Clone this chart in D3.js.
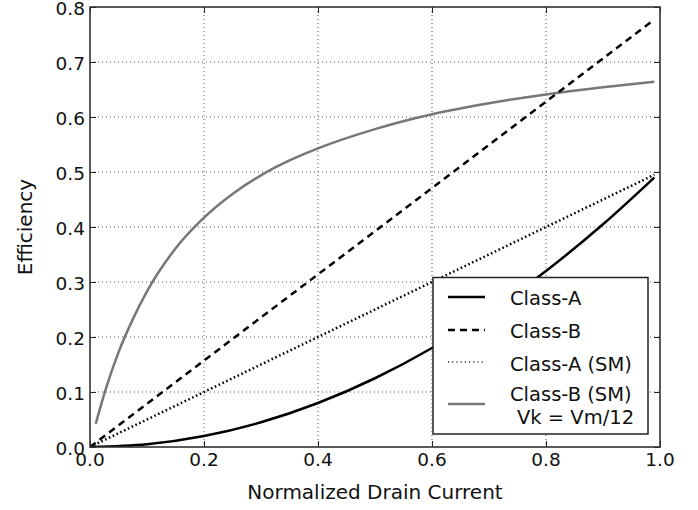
<!DOCTYPE html>
<html>
<head>
<meta charset="utf-8">
<script src="https://cdn.jsdelivr.net/npm/d3@7"></script>
<style>
  body { margin: 0; background: #fff; }
  text { font-family: "DejaVu Sans", sans-serif; fill: #111; }
</style>
</head>
<body>
<svg id="chart" width="698" height="510"></svg>
<script>
// ---- data ----
const xTicks = [0.0, 0.2, 0.4, 0.6, 0.8, 1.0];
const yTicks = [0.0, 0.1, 0.2, 0.3, 0.4, 0.5, 0.6, 0.7, 0.8];

const classAx = [0.0, 0.1, 0.2, 0.3, 0.4, 0.5, 0.6, 0.7, 0.8, 0.9, 0.99];
const classAy = [0.0, 0.005, 0.02, 0.045, 0.08, 0.125, 0.18, 0.245, 0.32, 0.405, 0.49];

const classBx = [0.0, 0.99];
const classBy = [0.0, 0.777];

const classASMx = [0.0, 0.99];
const classASMy = [0.0, 0.495];

const classBSMx = [0.01, 0.02, 0.03, 0.05, 0.075, 0.1, 0.15, 0.2, 0.25, 0.3, 0.35, 0.4, 0.5, 0.6, 0.7, 0.8, 0.9, 0.99];
const classBSMy = [0.042, 0.079, 0.113, 0.172, 0.232, 0.283, 0.361, 0.417, 0.460, 0.494, 0.521, 0.543, 0.578, 0.605, 0.625, 0.641, 0.654, 0.664];

const seriesNames = ["Class-A", "Class-B", "Class-A (SM)", "Class-B (SM)"];

// ---- layout ----
const W = 698, H = 510;
const margin = { left: 90, top: 7, right: 38, bottom: 63 };
const pw = W - margin.left - margin.right;
const ph = H - margin.top - margin.bottom;

const svg = d3.select("#chart");
const g = svg.append("g").attr("transform", `translate(${margin.left},${margin.top})`);

const x = d3.scaleLinear().domain([0, 1]).range([0, pw]);
const y = d3.scaleLinear().domain([0, 0.8]).range([ph, 0]);

// grid
const grid = g.append("g");
grid.selectAll("line.gx").data(xTicks.slice(1, -1)).enter().append("line")
  .attr("x1", d => x(d)).attr("x2", d => x(d)).attr("y1", 0).attr("y2", ph)
  .attr("stroke", "#555").attr("stroke-width", 1).attr("stroke-dasharray", "1,3");
grid.selectAll("line.gy").data(yTicks.slice(1, -1)).enter().append("line")
  .attr("y1", d => y(d)).attr("y2", d => y(d)).attr("x1", 0).attr("x2", pw)
  .attr("stroke", "#555").attr("stroke-width", 1).attr("stroke-dasharray", "1,3");

// clip
svg.append("defs").append("clipPath").attr("id", "clip")
  .append("rect").attr("x", 0).attr("y", -2).attr("width", pw).attr("height", ph + 2);

const lines = g.append("g").attr("clip-path", "url(#clip)");
const mk = (xs, ys) => xs.map((v, i) => [v, ys[i]]);
const lineGen = d3.line().x(d => x(d[0])).y(d => y(d[1])).curve(d3.curveMonotoneX);

const styles = [
  { data: mk(classBSMx, classBSMy), color: "#777", width: 2.5, dash: null },
  { data: mk(classASMx, classASMy), color: "#000", width: 2.5, dash: "1.6,2.6" },
  { data: mk(classBx, classBy), color: "#000", width: 2.5, dash: "7,5" },
  { data: mk(classAx, classAy), color: "#000", width: 2.5, dash: null }
];
styles.forEach(s => {
  lines.append("path").datum(s.data)
    .attr("d", lineGen).attr("fill", "none")
    .attr("stroke", s.color).attr("stroke-width", s.width)
    .attr("stroke-dasharray", s.dash);
});

// axes (ticks inside, on all four sides)
const tickLen = 6;
const axB = d3.axisBottom(x).tickValues(xTicks).tickSize(-tickLen).tickFormat("");
const axT = d3.axisTop(x).tickValues(xTicks).tickSize(-tickLen).tickFormat("");
const axL = d3.axisLeft(y).tickValues(yTicks).tickSize(-tickLen).tickFormat("");
const axR = d3.axisRight(y).tickValues(yTicks).tickSize(-tickLen).tickFormat("");
[[axB, `translate(0,${ph})`], [axT, "translate(0,0)"], [axL, "translate(0,0)"], [axR, `translate(${pw},0)`]]
  .forEach(([ax, tr]) => {
    const a = g.append("g").attr("transform", tr).call(ax);
    a.select(".domain").remove();
    a.selectAll(".tick line").attr("stroke", "#222").attr("stroke-width", 1);
  });

// frame
g.append("rect").attr("x", 0).attr("y", 0).attr("width", pw).attr("height", ph)
  .attr("fill", "none").attr("stroke", "#333").attr("stroke-width", 1.6);

// tick labels
g.selectAll("text.xt").data(xTicks).enter().append("text")
  .attr("x", d => x(d)).attr("y", ph + 18.5)
  .attr("text-anchor", "middle").attr("font-size", 18.5)
  .text(d => d.toFixed(1));
g.selectAll("text.yt").data(yTicks).enter().append("text")
  .attr("x", -5).attr("y", d => y(d)).attr("dy", "0.42em")
  .attr("text-anchor", "end").attr("font-size", 18.5)
  .text(d => d.toFixed(1));

// axis labels
svg.append("text").attr("x", margin.left + pw / 2).attr("y", 499)
  .attr("text-anchor", "middle").attr("font-size", 20)
  .text("Normalized Drain Current");
svg.append("text").attr("transform", `translate(32,${margin.top + ph / 2}) rotate(-90)`)
  .attr("text-anchor", "middle").attr("font-size", 20)
  .text("Efficiency");

// legend
const lg = svg.append("g");
lg.append("rect").attr("x", 433).attr("y", 277.5).attr("width", 215).attr("height", 156.5)
  .attr("fill", "#fff").attr("stroke", "#222").attr("stroke-width", 1.5);
const legendItems = [
  { name: seriesNames[0], ly: 297, ty: 305, color: "#000", dash: null, w: 2.5 },
  { name: seriesNames[1], ly: 330, ty: 338, color: "#000", dash: "7,5", w: 2.5 },
  { name: seriesNames[2], ly: 362, ty: 371, color: "#333", dash: "1.2,3", w: 1.5 },
  { name: seriesNames[3], ly: 404, ty: 401, color: "#777", dash: null, w: 2.5 }
];
legendItems.forEach(it => {
  lg.append("line").attr("x1", 448).attr("x2", 485).attr("y1", it.ly).attr("y2", it.ly)
    .attr("stroke", it.color).attr("stroke-width", it.w).attr("stroke-dasharray", it.dash);
  lg.append("text").attr("x", 510).attr("y", it.ty).attr("font-size", 19.5).text(it.name);
});
lg.append("text").attr("x", 517).attr("y", 424).attr("font-size", 19.5).text("Vk = Vm/12");
</script>
</body>
</html>
